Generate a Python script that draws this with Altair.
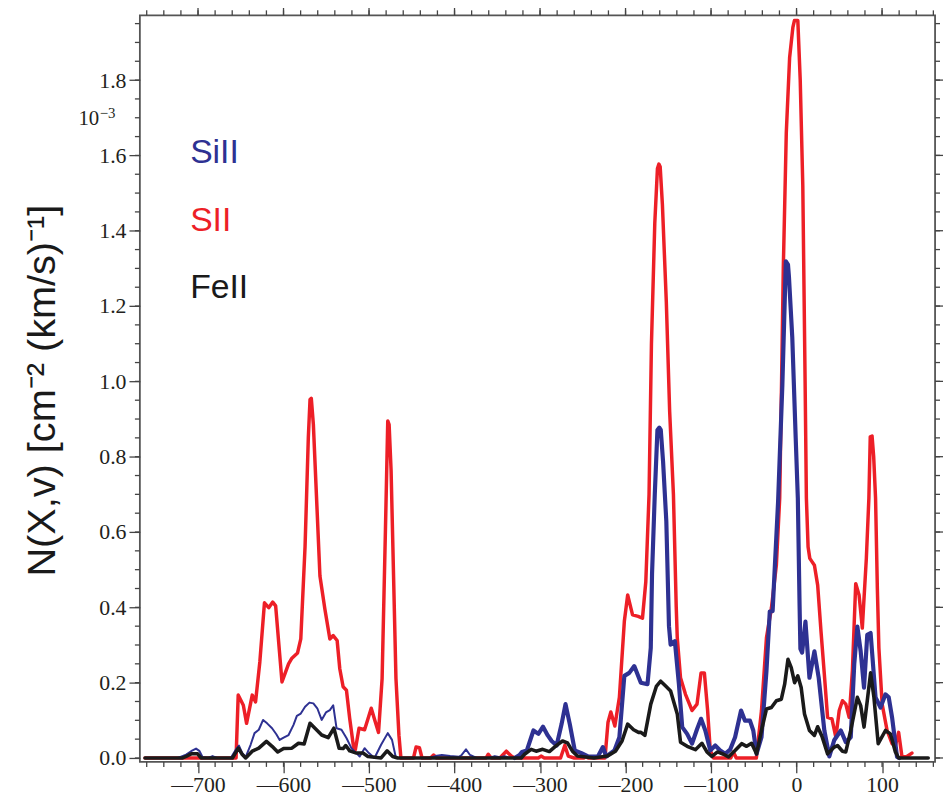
import altair as alt
import pandas as pd

# ---------------- data ----------------
SPECIES = ["SiII", "SII", "FeII"]
COLORS = ["#2E3192", "#ED1F27", "#1A1A1A"]

# S II  (velocity km/s, N in 1e-3 cm^-2 (km/s)^-1)
SII_POINTS = [
    (-762, 0), (-655.5, 0), (-653, 0.167), (-647, 0.140), (-643.2, 0.092), (-636.6, 0.167),
    (-632.7, 0.149), (-627.7, 0.255), (-622.3, 0.412), (-617.3, 0.399), (-612.6, 0.414),
    (-609.2, 0.404), (-601.8, 0.202), (-594.1, 0.250), (-590.2, 0.265), (-583.6, 0.279),
    (-579.8, 0.316), (-574.8, 0.562), (-571, 0.85), (-569, 0.952), (-567.5, 0.955),
    (-565.1, 0.886), (-557.4, 0.483), (-551.6, 0.395), (-545.8, 0.316), (-541.9, 0.325),
    (-537.3, 0.312), (-534.2, 0.237), (-530.3, 0.189), (-526.4, 0.180), (-522.6, 0.105),
    (-517.9, 0.026), (-516, 0.022), (-511.7, 0.079), (-505.2, 0.075), (-497.4, 0.132),
    (-492.8, 0.097), (-488.9, 0.068), (-484.7, 0.211), (-480.8, 0.606), (-478.1, 0.895),
    (-476.5, 0.885), (-474.2, 0.764), (-468.5, 0.211), (-465, 0.06), (-462.7, 0),
    (-448, 0), (-445, 0.029), (-441, 0.027), (-438, 0), (-428, 0), (-424.5, 0.008), (-421, 0),
    (-363, 0), (-360.5, 0.010), (-357, 0), (-347, 0), (-339.4, 0.018), (-333.6, 0.005),
    (-329.7, 0), (-302, 0), (-298.8, 0.005), (-295, 0), (-276, 0), (-271, 0.034),
    (-267, 0.005), (-260, 0), (-248.5, 0), (-246.6, 0.005), (-244, 0), (-224, 0),
    (-220.5, 0.095), (-217.2, 0.122), (-212.5, 0.085), (-207.2, 0.161), (-201.4, 0.363),
    (-197.5, 0.433), (-191.8, 0.380), (-185.2, 0.376), (-180.2, 0.371), (-176.3, 0.468),
    (-172.5, 0.70), (-169.7, 1.10), (-165.8, 1.42), (-162.7, 1.565), (-161, 1.577),
    (-159.5, 1.57), (-156.9, 1.47), (-152.3, 1.21), (-148.4, 0.92), (-144, 0.70),
    (-140.7, 0.40), (-139.5, 0.319), (-135.7, 0.213), (-129.9, 0.169), (-122.2, 0.126),
    (-116.4, 0.143), (-111.7, 0.226), (-107.8, 0.226), (-104, 0.126), (-100.9, 0.020),
    (-97, 0), (-77, 0), (-73.8, 0.016), (-70.5, 0), (-47, 0), (-41, 0.126), (-35.2, 0.319),
    (-29.4, 0.398), (-23.6, 0.512), (-19.7, 0.69), (-17.5, 1.0), (-15.5, 1.3), (-12, 1.66),
    (-8.1, 1.86), (-4.3, 1.94), (-2.5, 1.958), (1.5, 1.958), (4.3, 1.80), (7.3, 1.52),
    (10, 1.0), (11.5, 0.69), (13.5, 0.56), (15.5, 0.53), (20.9, 0.512), (24.7, 0.459),
    (28.6, 0.336), (32.5, 0.222), (36.3, 0.108), (41.4, 0.104), (46, 0.055), (49.9, 0.126),
    (53.7, 0.152), (57.6, 0.143), (61.5, 0.108), (65.3, 0.231), (69.2, 0.463), (73.1, 0.433),
    (76.9, 0.345), (81.6, 0.529), (84.6, 0.69), (86.2, 0.853), (88.3, 0.855), (90.2, 0.80),
    (92.4, 0.69), (94.5, 0.45), (96.3, 0.292), (100.1, 0.143), (105.9, 0.073),
    (111.7, 0.038), (115.6, 0.033), (119.4, 0.068), (123.3, 0.003), (129.1, 0.004),
    (134.9, 0.013),
]

# Si II
SIII_POINTS = [
    (-762, 0), (-723.6, 0), (-713.9, 0.009), (-708.1, 0.018), (-702.3, 0.025), (-698.5, 0.019),
    (-694.6, 0.002), (-688, 0), (-683, 0.005), (-678, 0), (-661.7, 0), (-655.9, 0.022),
    (-652.1, 0.033), (-648.2, 0.013), (-644.3, 0.002), (-638.5, 0.035), (-633.9, 0.066),
    (-628.9, 0.075), (-623.9, 0.101), (-619.2, 0.092), (-613.4, 0.079), (-608.4, 0.063),
    (-604.5, 0.048), (-599.9, 0.054), (-594.1, 0.061), (-588.3, 0.088), (-584.4, 0.112),
    (-579.8, 0.118), (-574.8, 0.136), (-569.7, 0.147), (-565.1, 0.145), (-560.5, 0.132),
    (-555.4, 0.101), (-550.4, 0.121), (-545.8, 0.127), (-541.9, 0.140), (-538, 0.079),
    (-532.2, 0.075), (-526.4, 0.053), (-520.6, 0.026), (-514.8, 0.013), (-510.9, 0.004),
    (-505.2, 0.026), (-500.2, 0.013), (-493.6, 0), (-485.9, 0.035), (-478.1, 0.066),
    (-473.1, 0.048), (-468.5, 0), (-430, 0), (-422.5, 0.005), (-414.8, 0.008),
    (-405.1, 0.005), (-395, 0.003), (-391.6, 0.008), (-386.6, 0.023), (-381.9, 0.008),
    (-374.2, 0), (-360, 0), (-352.9, 0.005), (-347, 0.002), (-341.3, 0.005), (-335, 0),
    (-329.7, 0),
    (-324, 0.008), (-321.2, 0.016), (-315.4, 0.020), (-307.7, 0.073), (-301.9, 0.064),
    (-296.5, 0.083), (-291, 0.06), (-286.4, 0.045), (-280.6, 0.033), (-274.8, 0.090),
    (-270.2, 0.143), (-265.2, 0.090), (-259.4, 0.020), (-251.6, 0.013), (-243.9, 0.004),
    (-232.3, 0.004), (-226.5, 0.029), (-222.6, 0.004), (-213, 0.020), (-207.2, 0.055),
    (-201.4, 0.218), (-195.6, 0.226), (-189.8, 0.244), (-182.1, 0.200), (-174.3, 0.196),
    (-170.5, 0.292), (-169, 0.49), (-165.8, 0.70), (-162.7, 0.871), (-160.5, 0.877),
    (-158.8, 0.871), (-156.1, 0.787), (-152.3, 0.628), (-149.2, 0.35), (-147.3, 0.301),
    (-142.3, 0.310), (-137.6, 0.196), (-133.7, 0.082), (-128, 0.064), (-122.2, 0.038),
    (-116.3, 0.077), (-111.7, 0.104), (-106.7, 0.073), (-100.9, 0.020), (-95.1, 0.033),
    (-89.3, 0.020), (-83.5, 0.011), (-77.7, 0.022), (-71.9, 0.055), (-64.9, 0.126),
    (-60.3, 0.099), (-54.5, 0.099), (-50.6, 0.073), (-46.8, 0.011), (-41, 0.055),
    (-35.2, 0.231), (-31.3, 0.389), (-28, 0.39), (-21.6, 0.68), (-16.6, 0.99),
    (-12.5, 1.319), (-10, 1.31), (-8.9, 1.278), (-5, 1.117), (-1, 0.85), (1.5, 0.69),
    (3.5, 0.41), (4.5, 0.29), (6.5, 0.28), (10.4, 0.362), (15.1, 0.213), (20.9, 0.283),
    (25.9, 0.213), (32.5, 0.073), (38.3, 0.004), (44, 0.047), (51.8, 0.073), (57.6, 0.042),
    (63.4, 0.055), (67.5, 0.25), (71.1, 0.349), (75, 0.283), (78.9, 0.187), (82.7, 0.327),
    (86.6, 0.332), (92.4, 0.161), (98.2, 0.134), (104, 0.169), (107.8, 0.161),
    (111.7, 0.108), (117.5, 0.003), (120, 0),
]
SIII_THIN_END = -329.7  # Si II is drawn with a thin stroke left of this velocity

# Fe II
FEII_POINTS = [
    (-762, 0), (-718, 0), (-713.9, 0.004), (-708, 0.011), (-700.4, 0.011), (-696.5, 0),
    (-659.8, 0), (-652.8, 0.026), (-648.2, 0.009), (-644.3, 0), (-636.6, 0.018),
    (-628.9, 0.026), (-620, 0.044), (-613.4, 0.031), (-606.8, 0.016), (-599.9, 0.025),
    (-590.2, 0.026), (-582.5, 0.039), (-575.9, 0.037), (-569, 0.092), (-563.2, 0.079),
    (-555.4, 0.061), (-547.7, 0.054), (-541.1, 0.079), (-535, 0.026), (-530.3, 0.025),
    (-527.2, 0.033), (-522.6, 0.019), (-514.8, 0.013), (-507.1, 0.013), (-501.3, 0.004),
    (-485.9, 0), (-478.9, 0.019), (-472.3, 0.004), (-466.5, 0), (-322, 0), (-318.1, 0.010),
    (-310.4, 0.023), (-304.6, 0.018), (-296.9, 0.023), (-289.1, 0.017), (-281.4, 0.032),
    (-273.7, 0.045), (-267.9, 0.040), (-262.1, 0.018), (-256.3, 0.005), (-236.9, 0),
    (-221.5, 0.005), (-211.8, 0.018), (-204.1, 0.045), (-197.5, 0.090), (-190.6, 0.075),
    (-184.8, 0.068), (-182, 0.068), (-177.4, 0.060), (-170.5, 0.143), (-164, 0.19),
    (-158.9, 0.204), (-153.1, 0.191), (-147.3, 0.178), (-139.5, 0.117), (-135.7, 0.042),
    (-127.9, 0.031), (-118.3, 0.022), (-110.6, 0.039), (-104.8, 0.016), (-99, 0.004),
    (-92.4, 0.016), (-85.4, 0.010), (-79.6, 0.003), (-71.9, 0.020), (-64.2, 0.038),
    (-58.4, 0.031), (-52.6, 0.039), (-46.8, 0.011), (-41, 0.073), (-35.2, 0.130),
    (-29.4, 0.134), (-23.6, 0.152), (-17.8, 0.156), (-13.9, 0.196), (-10, 0.262),
    (-6.2, 0.240), (-2.3, 0.200), (1.5, 0.218), (5.4, 0.187), (9.3, 0.117), (15.1, 0.073),
    (20.9, 0.060), (24.7, 0.083), (29.8, 0.057), (36.3, 0.011), (44.1, 0.029),
    (47.9, 0.033), (53.7, 0.018), (57.6, 0.016), (63.4, 0.073), (71.1, 0.161), (75, 0.139),
    (78.9, 0.082), (82.7, 0.152), (86.6, 0.226), (90.5, 0.161), (95.5, 0.038), (104, 0.073),
    (109.8, 0.064), (115.6, 0.016), (119.4, 0), (154, 0),
]

X_MAJOR = [-700, -600, -500, -400, -300, -200, -100, 0, 100]
X_MINOR = [-760, -740, -720, -700, -680, -660, -640, -620, -600, -580, -560, -540, -520,
           -500, -480, -460, -440, -420, -400, -380, -360, -340, -320, -300, -280, -260,
           -240, -220, -200, -180, -160, -140, -120, -100, -80, -60, -40, -20, 0, 20, 40,
           60, 80, 100, 120, 140, 160]
Y_MAJOR = [0.0, 0.2, 0.4, 0.6, 0.8, 1.0, 1.2, 1.4, 1.6, 1.8]
Y_MINOR = [0.0, 0.05, 0.1, 0.15, 0.2, 0.25, 0.3, 0.35, 0.4, 0.45, 0.5, 0.55, 0.6, 0.65,
           0.7, 0.75, 0.8, 0.85, 0.9, 0.95, 1.0, 1.05, 1.1, 1.15, 1.2, 1.25, 1.3, 1.35,
           1.4, 1.45, 1.5, 1.55, 1.6, 1.65, 1.7, 1.75, 1.8, 1.85, 1.9, 1.95]
X_DOMAIN = [-768, 162]
Y_DOMAIN = [-0.0105, 1.972]
Y_TITLE = "N(X,v) [cm\u207b\u00b2 (km/s)\u207b\u00b9]"
EXP_BASE = "10"
EXP_POWER = "\u22123"

# ---------------- build ----------------
rows = []
for name, pts in zip(SPECIES, [SIII_POINTS, SII_POINTS, FEII_POINTS]):
    for i, (v, n) in enumerate(pts):
        rows.append({"species": name, "v": v, "n": n, "idx": i})
df = pd.DataFrame(rows)

W, H = 802, 753
TICK = "#444444"
LABEL_FONT = "Liberation Serif"
SANS = "Liberation Sans"

xs = alt.Scale(domain=X_DOMAIN, nice=False, zero=False)
ys = alt.Scale(domain=Y_DOMAIN, nice=False, zero=False)

x_axis = alt.Axis(
    values=X_MAJOR, title="", grid=False, domain=False,
    labelExpr="datum.value < 0 ? '\u2014' + format(-datum.value, 'd') : format(datum.value, 'd')",
    labelFont=LABEL_FONT, labelFontSize=22, labelColor="#231F20", labelPadding=2,
    labelOverlap=False, labelFlush=False,
    tickSize=11, tickColor=TICK, tickWidth=1.3,
)
y_axis = alt.Axis(
    values=Y_MAJOR, format=".1f", grid=False, domain=False,
    labelFont=LABEL_FONT, labelFontSize=22, labelColor="#231F20", labelPadding=3,
    labelOverlap=False, labelFlush=False,
    tickSize=11, tickColor=TICK, tickWidth=1.3,
    title=Y_TITLE, titleFont=SANS, titleFontSize=40, titleFontWeight="normal",
    titleColor="#1A1A1A", titleAngle=270, titleX=-86, titleY=378,
    titleBaseline="alphabetic", titleAlign="center",
)

# axis-carrying layer (first): invisible, just defines the axes
axes_layer = alt.Chart(df).mark_point(opacity=0, size=0).encode(
    x=alt.X("v:Q", scale=xs, axis=x_axis),
    y=alt.Y("n:Q", scale=ys, axis=y_axis),
)


def line_layer(species, color, width, flt=None):
    expr = f"datum.species == '{species}'"
    if flt:
        expr += " && " + flt
    return alt.Chart(df).transform_filter(expr).mark_line(
        color=color, strokeWidth=width, strokeJoin="round", strokeCap="round"
    ).encode(
        x=alt.X("v:Q", scale=xs, axis=x_axis),
        y=alt.Y("n:Q", scale=ys, axis=y_axis),
        order="idx:Q",
    )


red = line_layer("SII", COLORS[1], 3.5)
blue_thin = line_layer("SiII", COLORS[0], 2.0, f"datum.v <= {SIII_THIN_END}")
blue_thick = line_layer("SiII", COLORS[0], 4.2, f"datum.v >= {SIII_THIN_END}")
black = line_layer("FeII", COLORS[2], 3.6)


def xticks(vals, y0, y1):
    return alt.Chart(pd.DataFrame({"v": vals})).mark_rule(color=TICK, strokeWidth=1.3).encode(
        x=alt.X("v:Q", scale=xs, axis=x_axis), y=alt.value(y0), y2=alt.value(y1)
    )


def yticks(vals, x0, x1):
    return alt.Chart(pd.DataFrame({"n": vals})).mark_rule(color=TICK, strokeWidth=1.3).encode(
        y=alt.Y("n:Q", scale=ys, axis=y_axis), x=alt.value(x0), x2=alt.value(x1)
    )


ticks = [
    xticks(X_MINOR, H, H + 5), xticks(X_MINOR, 0, -5), xticks(X_MAJOR, 0, -11),
    yticks(Y_MINOR, 0, -5), yticks(Y_MINOR, W, W + 5), yticks(Y_MAJOR, W, W + 11),
]


def text_layer(txt, color, x, y, size, font, align="left"):
    return alt.Chart(alt.Data(values=[{}])).mark_text(
        text=txt, color=color, font=font, fontSize=size, align=align, baseline="alphabetic"
    ).encode(x=alt.value(x), y=alt.value(y))


texts = [
    text_layer(SPECIES[0], COLORS[0], 50.7, 148.7, 34, SANS),
    text_layer(SPECIES[1], COLORS[1], 50.7, 217.3, 34, SANS),
    text_layer(SPECIES[2], COLORS[2], 50.7, 284.7, 34, SANS),
    text_layer(EXP_BASE, "#231F20", -41, 111, 21, LABEL_FONT, align="right"),
    text_layer(EXP_POWER, "#231F20", -40.5, 104, 15, LABEL_FONT),
]

chart = alt.layer(axes_layer, red, blue_thin, blue_thick, black, *ticks, *texts).properties(
    width=W, height=H,
    padding={"left": 133, "top": 4, "right": 8, "bottom": 34},
    autosize=alt.AutoSizeParams(type="none"),
).configure_view(stroke="#555555", strokeWidth=1.8)

chart.save("out.html", embed_options={"renderer": "svg", "actions": False})
